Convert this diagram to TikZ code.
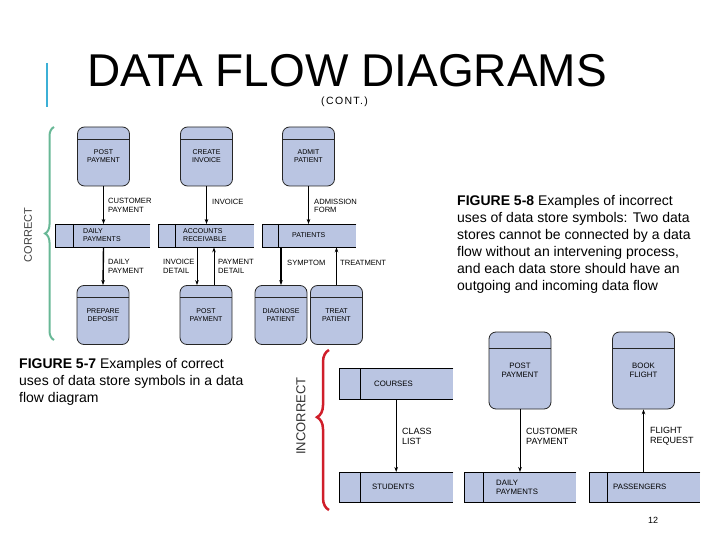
\documentclass[tikz,border=0pt]{standalone}
\usepackage{fontspec}
\setmainfont{Liberation Sans}
\usetikzlibrary{arrows.meta,decorations.pathreplacing}
\definecolor{dfdfill}{RGB}{186,197,226}
\definecolor{okgreen}{RGB}{104,184,150}
\definecolor{badred}{RGB}{208,30,42}
\definecolor{barblue}{RGB}{60,176,214}
\begin{document}
\begin{tikzpicture}[x=1pt,y=-1pt,
    proc/.style={draw=black!85,fill=dfdfill,rounded corners=7pt,line width=0.8pt,
      minimum width=52pt,minimum height=59pt,inner sep=0pt,align=center,
      font=\fontsize{7}{8}\selectfont,
      path picture={\draw[line width=0.8pt]
        ([yshift=-#1]path picture bounding box.north west) --
        ([yshift=-#1]path picture bounding box.north east);}},
    proc/.default=12pt,
    bigproc/.style={proc=16pt,minimum width=62pt,minimum height=77pt,
      font=\fontsize{7.8}{9}\selectfont},
    store/.style={fill=dfdfill,inner sep=0pt,anchor=north west,minimum height=23pt},
    bigstore/.style={store,minimum height=31pt},
    stxt/.style={anchor=west,inner sep=0pt,align=left,font=\fontsize{7}{8}\selectfont},
    bigstxt/.style={stxt,font=\fontsize{7.8}{9}\selectfont},
    lbl/.style={anchor=west,inner sep=0pt,align=left,font=\fontsize{7.6}{8.5}\selectfont},
    biglbl/.style={lbl,font=\fontsize{9}{10}\selectfont},
    flow/.style={-{Stealth[length=5pt,width=3.6pt]},line width=0.8pt},
    heavy/.style={flow,line width=1.4pt},
    caption/.style={anchor=north west,inner sep=0pt,align=left,
      font=\fontsize{14}{17}\selectfont}]
  \useasboundingbox (0,0) rectangle (720,540);

  % heading
  \draw[barblue,line width=2.5pt] (47,63) -- (47,107);
  \node[anchor=base west,inner sep=0pt,text depth=0pt,font=\fontsize{46}{46}\selectfont] (title) at (87,87) {DATA FLOW DIAGRAMS};
  \node[anchor=base west,inner sep=0pt,font=\fontsize{10.5}{10.5}\selectfont\addfontfeature{LetterSpace=13}] (cont) at (321,105) {(CONT.)};

  % correct uses
  \node[proc] (post1) at (103.5,156.5) {POST\\PAYMENT};
  \node[proc] (create) at (206.5,156.5) {CREATE\\INVOICE};
  \node[proc] (admit) at (308.5,156.5) {ADMIT\\PATIENT};
  \node[store,minimum width=95pt] (daily1) at (55,224) {};
  \node[store,minimum width=96pt] (accrec) at (158,224) {};
  \node[store,minimum width=94pt] (patients) at (262,224) {};
  \node[stxt] (daily1T) at (83,235.5) {DAILY\\PAYMENTS};
  \node[stxt] (accrecT) at (183,235.5) {ACCOUNTS\\RECEIVABLE};
  \node[stxt] (patientsT) at (292,235.5) {PATIENTS};
  \node[proc] (prepare) at (103,315) {PREPARE\\DEPOSIT};
  \node[proc] (post2) at (206,315) {POST\\PAYMENT};
  \node[proc] (diagnose) at (281,315) {DIAGNOSE\\PATIENT};
  \node[proc] (treat) at (336.5,315) {TREAT\\PATIENT};

  \draw[heavy] (post1.south) -- (post1.south |- daily1.north);
  \draw[heavy] (post1.south |- daily1.south) -- (prepare.north);
  \draw[flow] (create.south) -- (create.south |- accrec.north);
  \draw[flow] ([xshift=-9pt]post2.north |- accrec.south) -- ([xshift=-9pt]post2.north);
  \draw[flow] ([xshift=8pt]post2.north) -- ([xshift=8pt]post2.north |- accrec.south);
  \draw[flow] (admit.south) -- (admit.south |- patients.north);
  \draw[heavy] (diagnose.north |- patients.south) -- (diagnose.north);
  \draw[flow] (treat.north) -- (treat.north |- patients.south);

  \node[lbl] (custpay1) at (108,205.5) {CUSTOMER\\PAYMENT};
  \node[lbl] (dailypay) at (108,266.5) {DAILY\\PAYMENT};
  \node[lbl] (invoice) at (212,202) {INVOICE};
  \node[lbl] (invdetail) at (163,266.5) {INVOICE\\DETAIL};
  \node[lbl] (paydetail) at (218,266.5) {PAYMENT\\DETAIL};
  \node[lbl] (admform) at (314,206) {ADMISSION\\FORM};
  \node[lbl] (symptom) at (287,263) {SYMPTOM};
  \node[lbl] (treatment) at (340,263) {TREATMENT};

  \draw[okgreen,line width=2pt,decorate,decoration={brace,amplitude=9pt}] (54,340) -- (54,127);
  \node[rotate=90,inner sep=0pt,text=black!75,font=\fontsize{11}{11}\selectfont] (correct) at (28,235) {CORRECT};

  % incorrect uses
  \node[bigstore,minimum width=114pt] (courses) at (339,368) {};
  \node[bigstore,minimum width=114pt,minimum height=30pt] (students) at (339,472) {};
  \node[bigstore,minimum width=112pt,minimum height=30pt] (daily2) at (464,472) {};
  \node[bigstore,minimum width=111pt,minimum height=30pt] (passengers) at (589,472) {};
  \node[bigstxt] (coursesT) at (374,383.5) {COURSES};
  \node[bigstxt] (studentsT) at (372,487) {STUDENTS};
  \node[bigstxt] (daily2T) at (496,487) {DAILY\\PAYMENTS};
  \node[bigstxt] (passengersT) at (613,487) {PASSENGERS};
  \node[bigproc] (post3) at (520,370.5) {POST\\PAYMENT};
  \node[bigproc] (book) at (643.5,370.5) {BOOK\\FLIGHT};

  \draw[flow] (courses.south) -- (students.north);
  \draw[flow] (post3.south) -- (post3.south |- daily2.north);
  \draw[heavy] (book.south |- passengers.north) -- (book.south);

  \node[biglbl] (classlist) at (402,436) {CLASS\\LIST};
  \node[biglbl] (custpay2) at (526,436) {CUSTOMER\\PAYMENT};
  \node[biglbl] (flightreq) at (650,436) {FLIGHT\\REQUEST};

  \foreach \s/\d in {daily1/18,accrec/17,patients/16,courses/21,students/21,daily2/19,passengers/18}
    \draw[line width=0.8pt] (\s.north east) -- (\s.north west) -- (\s.south west) -- (\s.south east)
      ([xshift=\d pt]\s.north west) -- ([xshift=\d pt]\s.south west);

  \draw[badred,line width=2.5pt,decorate,decoration={brace,amplitude=12pt,aspect=0.58}] (329,510) -- (329,350);
  \node[rotate=90,inner sep=0pt,text=black!80,font=\fontsize{13}{13}\selectfont] (incorrect) at (301,416) {INCORRECT};

  % captions
  \node[caption] (fig7) at (19,358) {\textbf{FIGURE 5-7} Examples of correct\\uses of data store symbols in a data\\flow diagram};
  \node[caption] (fig8) at (457,195) {\textbf{FIGURE 5-8} Examples of incorrect\\uses of data store symbols: Two data\\stores cannot be connected by a data\\flow without an intervening process,\\and each data store should have an\\outgoing and incoming data flow};
  \node[inner sep=0pt,font=\fontsize{9}{9}\selectfont] (pagenum) at (653,520) {12};
\end{tikzpicture}
\end{document}
